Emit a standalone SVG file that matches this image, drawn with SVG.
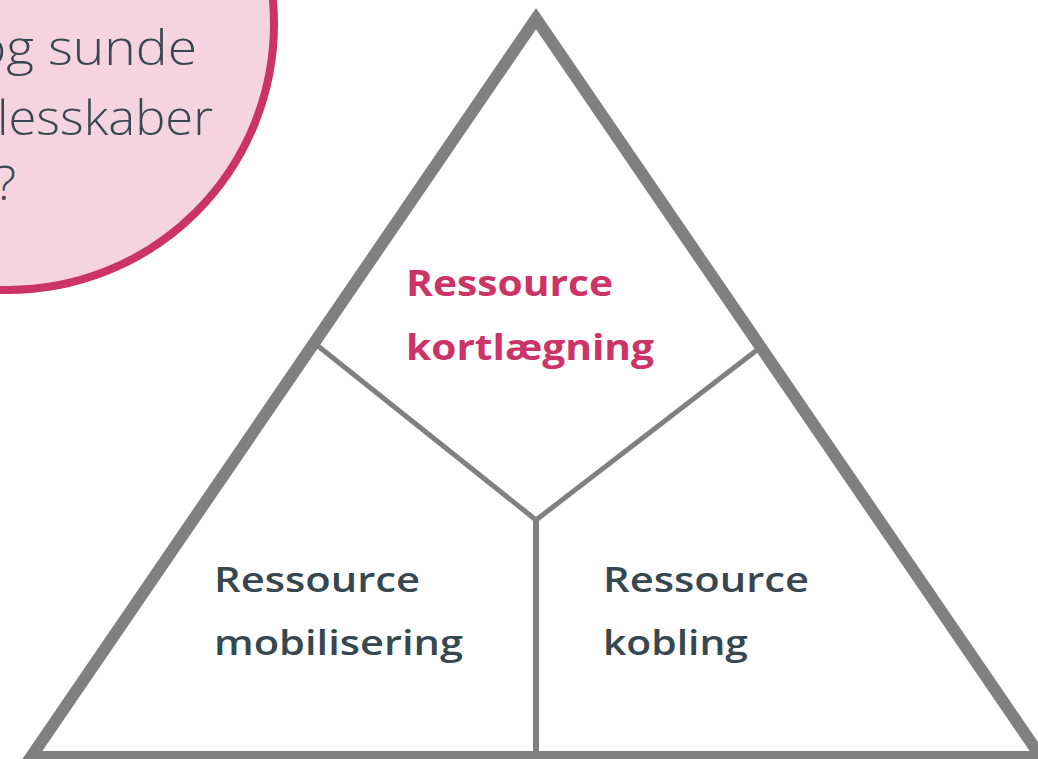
<svg xmlns="http://www.w3.org/2000/svg" width="1038" height="759" viewBox="0 0 1038 759">
  <style>
    .bubble { fill: #f5d4df; stroke: #cc3366; stroke-width: 8; }
    .btext { font-family: "Open Sans", "Lato", "Liberation Sans", sans-serif; font-weight: 300; font-size: 48px; fill: #37474f; }
    .frame { fill: none; stroke: #808080; stroke-width: 12; stroke-linejoin: miter; stroke-miterlimit: 10; }
    .div { fill: none; stroke: #808080; stroke-width: 5; }
    .lbl { font-family: "Open Sans", "Liberation Sans", sans-serif; font-size: 35px; }
    .pink { fill: #cc3366; font-weight: 700; }
    .dark { fill: #37474f; font-weight: 600; }
  </style>
  <rect width="1038" height="759" fill="#ffffff"/>
  <g id="bubble">
    <circle class="bubble" cx="8" cy="24" r="266"/>
    <text class="btext" x="-25" y="65" textLength="222" lengthAdjust="spacingAndGlyphs">og sunde</text>
    <text class="btext" x="-3" y="135" textLength="216" lengthAdjust="spacingAndGlyphs">lesskaber</text>
    <text class="btext" x="16" y="200" text-anchor="end">?</text>
  </g>
  <g id="triangle">
    <polygon class="frame" points="536,18.6 31,757 1041,757"/>
  </g>
  <g id="connectors">
    <polyline class="div" points="318,346 536,520 757,350"/>
    <line x1="536" y1="520" x2="536" y2="757" stroke="#808080" stroke-width="6"/>
  </g>
  <g id="node-kortlaegning">
    <text class="lbl pink" x="406" y="296" textLength="207" lengthAdjust="spacingAndGlyphs">Ressource</text>
    <text class="lbl pink" x="406" y="360" textLength="248" lengthAdjust="spacingAndGlyphs">kortlægning</text>
  </g>
  <g id="node-mobilisering">
    <text class="lbl dark" x="214" y="592" textLength="206" lengthAdjust="spacingAndGlyphs">Ressource</text>
    <text class="lbl dark" x="214" y="655" textLength="249" lengthAdjust="spacingAndGlyphs">mobilisering</text>
  </g>
  <g id="node-kobling">
    <text class="lbl dark" x="603" y="592" textLength="206" lengthAdjust="spacingAndGlyphs">Ressource</text>
    <text class="lbl dark" x="603" y="655" textLength="145" lengthAdjust="spacingAndGlyphs">kobling</text>
  </g>
</svg>
